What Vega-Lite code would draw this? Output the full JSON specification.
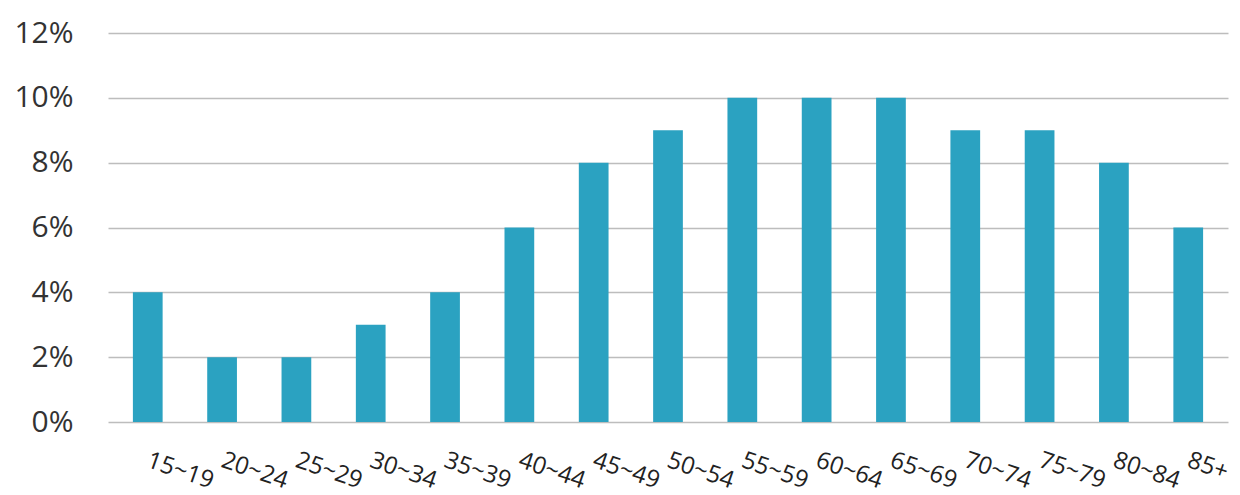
{
  "$schema": "https://vega.github.io/schema/vega-lite/v6.json",
  "width": 1120,
  "height": 389,
  "autosize": {"type": "none"},
  "padding": {"left": 108, "top": 33, "right": 12, "bottom": 73},
  "background": "white",
  "config": {"view": {"stroke": null}},
  "data": {
    "values": [
      {"age": "15~19", "share": 0.04},
      {"age": "20~24", "share": 0.02},
      {"age": "25~29", "share": 0.02},
      {"age": "30~34", "share": 0.03},
      {"age": "35~39", "share": 0.04},
      {"age": "40~44", "share": 0.06},
      {"age": "45~49", "share": 0.08},
      {"age": "50~54", "share": 0.09},
      {"age": "55~59", "share": 0.10},
      {"age": "60~64", "share": 0.10},
      {"age": "65~69", "share": 0.10},
      {"age": "70~74", "share": 0.09},
      {"age": "75~79", "share": 0.09},
      {"age": "80~84", "share": 0.08},
      {"age": "85+", "share": 0.06}
    ]
  },
  "mark": {"type": "bar", "color": "#2BA2C1"},
  "encoding": {
    "x": {
      "field": "age",
      "type": "nominal",
      "sort": null,
      "scale": {"paddingInner": 0.6, "paddingOuter": 0.335},
      "axis": {
        "title": null,
        "labelAngle": 19,
        "labelAlign": "left",
        "labelBaseline": "top",
        "labelPadding": 26,
        "labelOffset": 4,
        "labelFont": "Open Sans",
        "labelFontSize": 24,
        "labelColor": "#222222",
        "ticks": false,
        "domain": false,
        "grid": false
      }
    },
    "y": {
      "field": "share",
      "type": "quantitative",
      "scale": {"domain": [0, 0.12]},
      "axis": {
        "title": null,
        "values": [0, 0.02, 0.04, 0.06, 0.08, 0.1, 0.12],
        "format": ".0%",
        "labelFont": "Open Sans",
        "labelFontSize": 30,
        "labelColor": "#333333",
        "labelPadding": 35,
        "ticks": false,
        "domain": false,
        "gridColor": "#BDBDBD",
        "gridWidth": 1.5
      }
    }
  }
}
